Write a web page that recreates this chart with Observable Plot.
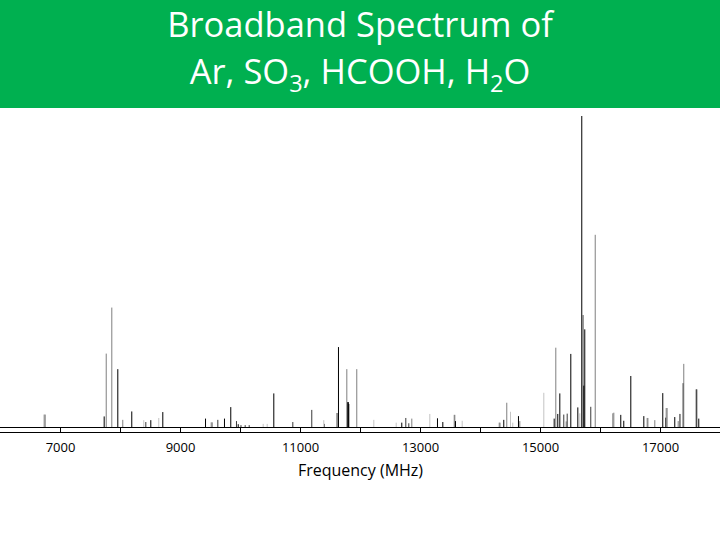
<!DOCTYPE html>
<html><head><meta charset="utf-8">
<script src="https://cdn.jsdelivr.net/npm/d3@7"></script>
<script src="https://cdn.jsdelivr.net/npm/@observablehq/plot@0.6"></script>
<style>
body{margin:0;background:#fff;width:720px;height:540px;overflow:hidden;font-family:"Open Sans",sans-serif}
#title{background:#00b050;color:#fff;height:108px;text-align:center;font-size:34.5px;line-height:47px;padding-top:0px;box-sizing:border-box}
.sub{font-size:0.68em;position:relative;top:0.32em}
#chart svg{display:block}
</style></head><body>
<div id="title">Broadband Spectrum of<br>Ar, SO<span class="sub">3</span>, HCOOH, H<span class="sub">2</span>O</div>
<div id="chart"></div>
<script>
// Line frequencies (MHz), relative intensities (tallest = 100), and trace group
const freqs = [6728,6745,7728,7762,7855,7955,8038,8188,8388,8422,8505,8638,8705,
  9417,9512,9529,9622,9733,9838,9933,9962,10008,10078,10145,10378,10445,10555,10872,11188,
  11388,11400,11605,11620,11633,11772,11788,11797,11805,11938,12222,12595,12688,12755,12805,12855,
  13155,13283,13372,13562,13572,13583,13695,
  14312,14325,14388,14438,14500,14538,14633,14655,15055,15228,15255,15288,15322,15388,15428,15445,
  15505,15622,15655,15688,15705,15712,15722,15738,15838,15912,
  16205,16222,16338,16388,16505,16722,16778,16790,16905,17038,17088,17095,17110,17238,17295,17317,17330,
  17378,17388,17595,17605,17638];
const intens = [4.0,4.0,3.4,23.6,38.4,18.6,2.3,5.0,2.2,1.6,2.2,2.9,4.8,
  2.7,1.5,1.5,2.3,2.7,6.4,1.9,0.9,0.6,0.6,0.6,1.0,1.0,10.8,1.6,5.5,
  2.2,1.0,4.5,4.5,25.7,18.6,8.0,8.0,7.4,18.6,2.3,1.4,1.4,2.9,1.2,2.7,
  4.2,2.8,1.6,3.9,3.9,1.9,2.0,
  1.4,1.4,2.3,7.8,4.9,1.4,3.5,1.9,11.0,2.7,25.5,4.2,10.8,4.0,1.8,4.3,
  23.5,6.3,4.4,100,36.0,36.0,13.3,31.4,6.5,61.8,
  4.4,4.6,3.9,2.0,16.4,3.5,2.9,2.9,2.2,10.9,3.0,6.1,6.1,3.2,1.9,4.2,4.2,
  14.1,20.3,12.1,12.1,2.7];
const trace = ["g","g","k","g","g","k","g","k","l","d","k","l","k",
  "k","g","g","d","k","k","d","k","d","d","d","l","l","k","d","d",
  "l","g","g","g","k","g","k","k","k","g","l","l","k","d","d","g",
  "l","k","k","g","g","k","l",
  "g","g","k","g","l","l","k","g","l","k","g","k","k","d","g","d",
  "k","k","l","k","g","g","k","k","d","g",
  "g","g","k","k","k","k","g","g","g","k","k","g","g","k","g","g","g",
  "k","g","d","d","k"];
const traceNames = ["k","d","g","l"];
const traceColors = ["#000000","#3a3a3a","#7f7f7f","#c4c4c4"];
const tickValues = [7000,8000,9000,10000,11000,12000,13000,14000,15000,16000,17000];
const tickLabels = [7000,9000,11000,13000,15000,17000];

const lines = freqs.map((f,i)=>({f, h:intens[i], t:trace[i]}));

const chart = Plot.plot({
  width:720, height:432,
  marginLeft:0, marginRight:0, marginTop:8, marginBottom:113,
  style:{fontFamily:"'Open Sans', sans-serif", fontSize:"13px", background:"white", overflow:"visible"},
  x:{domain:[6000,18000]},
  y:{domain:[0,100], axis:null},
  color:{domain:traceNames, range:traceColors},
  marks:[
    Plot.ruleX(lines,{x:"f", y1:0, y2:"h", stroke:"t", strokeWidth:1}),
    Plot.ruleY([0],{stroke:"#000", strokeWidth:1.2}),
    Plot.ruleY([0],{stroke:"#000", strokeWidth:1.2, dy:5}),
    Plot.axisX({ticks:tickValues, tickSize:5, tickPadding:10,
      tickFormat:d=>tickLabels.includes(d)?String(d):"",
      label:"Frequency (MHz)", labelAnchor:"center", labelArrow:"none", labelOffset:48,
      fontSize:13})
  ]
});
d3.select(chart).selectAll("[aria-label='x-axis label'] text").style("font-size","16px");
document.getElementById("chart").appendChild(chart);
</script>
</body></html>
